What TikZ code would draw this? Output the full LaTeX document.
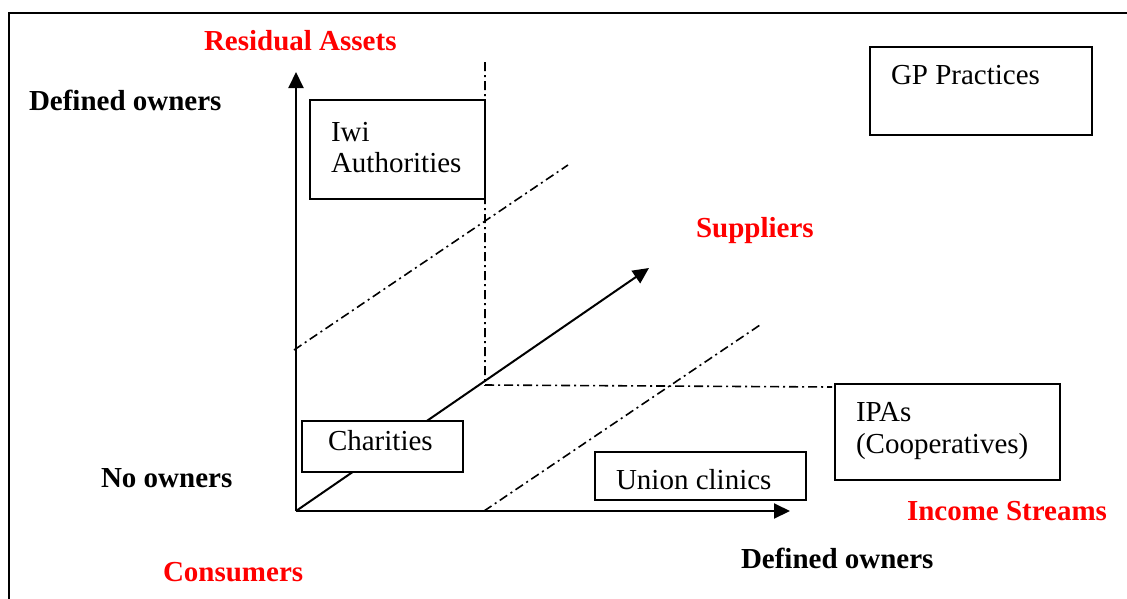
\documentclass[tikz,border=0pt]{standalone}
\usepackage{fontspec}
\setmainfont{Liberation Serif}
\usetikzlibrary{arrows.meta}
\begin{document}
\begin{tikzpicture}[x=1pt,y=-1pt,
  every node/.style={inner sep=0pt,outer sep=0pt,font=\fontsize{29}{33}\selectfont},
  frameline/.style={line width=2.2pt},
  axis/.style={line width=2pt,-{Triangle[length=16pt,width=15pt]}},
  dashdot/.style={line width=1.6pt,dash pattern=on 9pt off 4pt on 2pt off 4pt},
  boxnode/.style={draw,fill=white,line width=2pt,anchor=north west},
  redlab/.style={anchor=base west,text=red,font=\fontsize{29}{33}\selectfont\bfseries},
  blacklab/.style={anchor=base west,font=\fontsize{29}{33}\selectfont\bfseries},
  boxtext/.style={anchor=base west,align=left}]
\useasboundingbox (0,0) rectangle (1127,598);
\fill[white] (0,0) rectangle (1127,598);
% frame
\draw[frameline] (9,602) -- (9,13) -- (1132,13);
% key coordinates
\coordinate (O) at (296,511);
\coordinate (ytip) at (296,72);
\coordinate (xtip) at (790,511);
\coordinate (stip) at (649,268);
\coordinate (vtop) at (485,62);
\coordinate (corner) at (485,385);
\coordinate (hend) at (832,387);
\coordinate (u1) at (294,350);
\coordinate (u2) at (568,165);
\coordinate (l1) at (484,511);
\coordinate (l2) at (760,325);
% dash-dot lines
\draw[dashdot] (vtop) -- (corner) -- (hend);
\draw[dashdot] (u1) -- (u2);
\draw[dashdot] (l1) -- (l2);
% axes
\draw[axis] (O) -- (ytip);
\draw[axis] (O) -- (xtip);
\draw[axis] (O) -- (stip);
% boxes (white-filled, drawn over the lines)
\node[boxnode,minimum width=175pt,minimum height=99pt] (iwi) at (310,100) {};
\node[boxnode,minimum width=222pt,minimum height=88pt] (gp) at (870,47) {};
\node[boxnode,minimum width=161pt,minimum height=51pt] (char) at (302,421) {};
\node[boxnode,minimum width=211pt,minimum height=48pt] (union) at (595,452) {};
\node[boxnode,minimum width=225pt,minimum height=96pt] (ipa) at (835,384) {};
\draw[dashdot] (vtop) -- (corner);
% box texts
\node[boxtext] (tiwi) at (331,141) {Iwi};
\node[boxtext] (tauth) at (331,172) {Authorities};
\node[boxtext] (tgp) at (891,84) {GP Practices};
\node[boxtext] (tchar) at (328,450) {Charities};
\node[boxtext] (tunion) at (616,489) {Union clinics};
\node[boxtext] (tipa) at (856,421) {IPAs};
\node[boxtext] (tcoop) at (856,453) {(Cooperatives)};
% labels
\node[redlab] (resid) at (204,50) {Residual Assets};
\node[redlab] (supp) at (696,237) {Suppliers};
\node[redlab] (cons) at (163,581) {Consumers};
\node[redlab] (inc) at (907,520) {Income Streams};
\node[blacklab] (defl) at (29,110) {Defined owners};
\node[blacklab] (noown) at (101,487) {No owners};
\node[blacklab] (defb) at (741,568) {Defined owners};
\end{tikzpicture}
\end{document}
